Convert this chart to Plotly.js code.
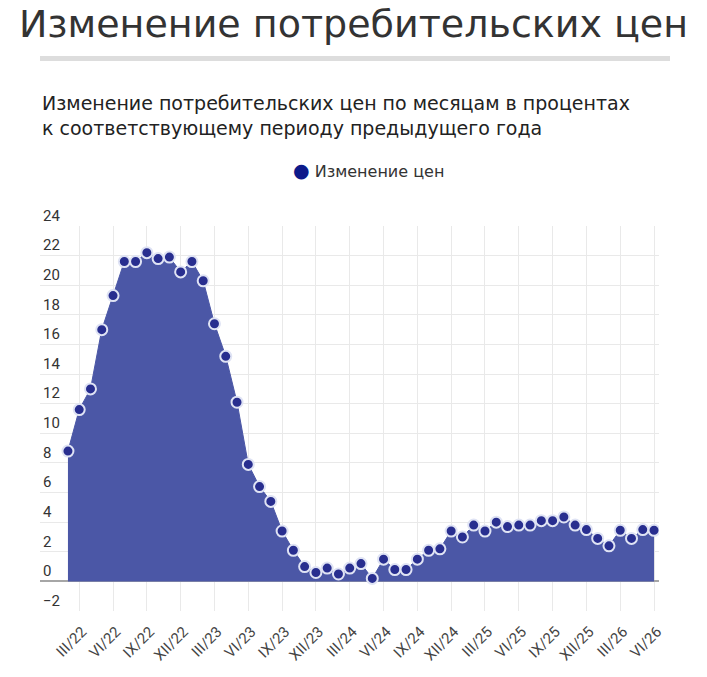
<!DOCTYPE html>
<html>
<head>
<meta charset="utf-8">
<script src="https://cdn.plot.ly/plotly-3.0.1.min.js"></script>
<style>
  html, body { margin: 0; padding: 0; background: #fff; }
  #chart { width: 707px; height: 677px; }
</style>
</head>
<body>
<div id="chart"></div>
<script>
// Months, Feb 2022 .. Jun 2026
var months = [
    'II/22', 'III/22', 'IV/22', 'V/22', 'VI/22', 'VII/22', 'VIII/22', 'IX/22', 'X/22', 'XI/22', 'XII/22',
    'I/23', 'II/23', 'III/23', 'IV/23', 'V/23', 'VI/23', 'VII/23', 'VIII/23', 'IX/23', 'X/23', 'XI/23', 'XII/23',
    'I/24', 'II/24', 'III/24', 'IV/24', 'V/24', 'VI/24', 'VII/24', 'VIII/24', 'IX/24', 'X/24', 'XI/24', 'XII/24',
    'I/25', 'II/25', 'III/25', 'IV/25', 'V/25', 'VI/25', 'VII/25', 'VIII/25', 'IX/25', 'X/25', 'XI/25', 'XII/25',
    'I/26', 'II/26', 'III/26', 'IV/26', 'V/26', 'VI/26'
];

// Year-on-year change, percent
var priceChange = [
    8.8, 11.6, 13.0, 17.0, 19.3, 21.6, 21.6, 22.2, 21.8, 21.9, 20.9,
    21.6, 20.3, 17.4, 15.2, 12.1, 7.9, 6.4, 5.4, 3.4, 2.1, 1.0, 0.6,
    0.9, 0.5, 0.9, 1.2, 0.2, 1.5, 0.8, 0.8, 1.5, 2.1, 2.2, 3.4,
    3.0, 3.8, 3.4, 4.0, 3.7, 3.8, 3.8, 4.1, 4.1, 4.35, 3.8, 3.5,
    2.9, 2.4, 3.45, 2.9, 3.5, 3.45
];

var tickLabels = ['III/22', 'VI/22', 'IX/22', 'XII/22', 'III/23', 'VI/23', 'IX/23', 'XII/23',
    'III/24', 'VI/24', 'IX/24', 'XII/24', 'III/25', 'VI/25', 'IX/25', 'XII/25', 'III/26', 'VI/26'];

var seriesName = 'Изменение цен';

var trace = {
    x: months,
    y: priceChange,
    type: 'scatter',
    mode: 'lines+markers',
    fill: 'tozeroy',
    fillcolor: '#4b57a6',
    line: { color: '#4b57a6', width: 1, shape: 'linear' },
    marker: {
        size: 11,
        color: '#282e8f',
        line: { color: '#dfe3f4', width: 2 }
    },
    name: seriesName,
    showlegend: false,
    hoverinfo: 'skip'
};

var layout = {
    width: 707,
    height: 677,
    paper_bgcolor: '#fff',
    plot_bgcolor: '#fff',
    margin: { l: 40, r: 48, t: 226, b: 66 },
    font: { family: 'Roboto, sans-serif', color: '#333' },
    title: {
        text: 'Изменение потребительских цен',
        font: { family: 'DejaVu Sans, sans-serif', size: 38, color: '#333' },
        xref: 'container', x: 0.5, xanchor: 'center',
        yref: 'container', y: 1 - 24 / 677, yanchor: 'middle'
    },
    xaxis: {
        type: 'category',
        range: [-2.48, 52.44],
        tickvals: tickLabels,
        tickangle: -45,
        ticklabelstandoff: 8,
        ticklabelshift: 3,
        showgrid: true,
        gridcolor: '#e9e9e9',
        gridwidth: 1,
        ticks: '',
        showline: false,
        zeroline: false,
        tickfont: { family: 'Roboto, sans-serif', size: 15, color: '#444' }
    },
    yaxis: {
        range: [-2, 24],
        dtick: 2,
        tick0: 0,
        showgrid: true,
        gridcolor: '#e9e9e9',
        gridwidth: 1,
        zeroline: true,
        zerolinecolor: '#a6a6a6',
        zerolinewidth: 2,
        ticks: '',
        ticklabelposition: 'inside top',
        ticklabeloverflow: 'allow',
        tickfont: { family: 'Roboto, sans-serif', size: 15, color: '#333' }
    },
    shapes: [{
        type: 'rect',
        xref: 'paper', yref: 'paper',
        x0: 0, x1: (670 - 40) / 619,
        y0: (611 - 61) / 385, y1: (611 - 56) / 385,
        fillcolor: '#dddddd',
        line: { width: 0 }
    }],
    annotations: [
        {
            xref: 'paper', yref: 'paper',
            x: 0.0, xanchor: 'left', align: 'left',
            y: (611 - 116) / 385, yanchor: 'middle',
            showarrow: false,
            text: 'Изменение потребительских цен по месяцам в процентах<br>к соответствующему периоду предыдущего года',
            font: { family: 'DejaVu Sans, sans-serif', size: 19, color: '#222' }
        },
        {
            xref: 'paper', yref: 'paper',
            x: (291 - 40) / 619, xanchor: 'left',
            y: (611 - 170) / 385, yanchor: 'middle',
            showarrow: false,
            text: '<span style="color:#0d1a8a;font-size:19px">●</span> ' + seriesName,
            font: { family: 'DejaVu Sans, sans-serif', size: 16, color: '#333' }
        }
    ]
};

Plotly.newPlot('chart', [trace], layout, { displayModeBar: false, staticPlot: true });
</script>
</body>
</html>
